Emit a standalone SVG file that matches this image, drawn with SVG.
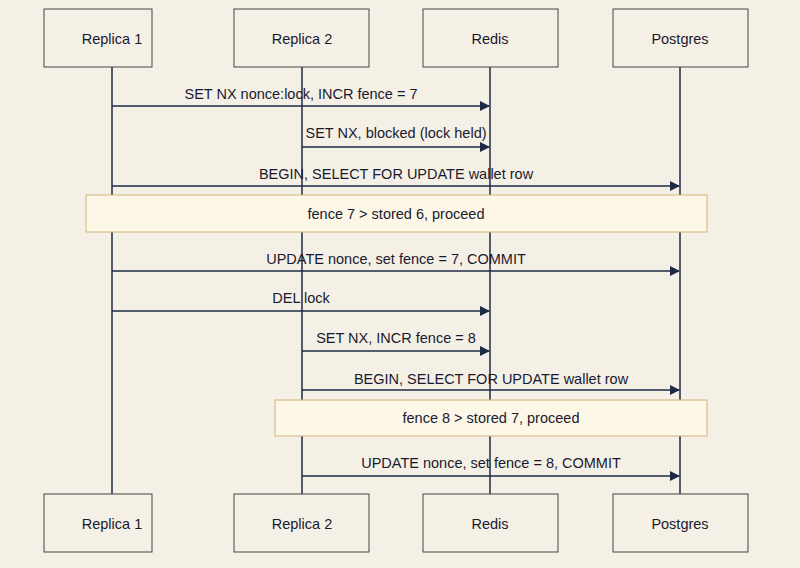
<svg xmlns="http://www.w3.org/2000/svg" width="800" height="568" viewBox="0 0 800 568">
<defs>
<style>
.actor{fill:#f5f0e6;stroke:#444;stroke-width:1}
.life{stroke:#1e2a44;stroke-width:1.5}
.msg{stroke:#1e2a44;stroke-width:1.3;marker-end:url(#ah)}
.note{fill:#fdf7e8;stroke:#d2b27a;stroke-width:1}
text{font-family:"Liberation Sans",Arial,sans-serif;font-size:14.5px;fill:#1a1a2e;text-anchor:middle}
</style>
<marker id="ah" markerWidth="10" markerHeight="10" refX="9" refY="5" orient="auto" markerUnits="userSpaceOnUse"><path d="M0,0 L10,5 L0,10 z" fill="#1e2a44"/></marker>
</defs>
<rect width="800" height="568" fill="#f5f0e6"/>
<g id="lifelines">
<line class="life" x1="112" y1="67" x2="112" y2="494"/>
<line class="life" x1="302" y1="67" x2="302" y2="494"/>
<line class="life" x1="490" y1="67" x2="490" y2="494"/>
<line class="life" x1="680" y1="67" x2="680" y2="494"/>
</g>
<g id="replica1"><rect class="actor" x="44" y="9" width="108" height="58"/><text x="112" y="44">Replica 1</text>
<rect class="actor" x="44" y="494" width="108" height="58"/><text x="112" y="529">Replica 1</text></g>
<g id="replica2"><rect class="actor" x="234" y="9" width="135" height="58"/><text x="302" y="44">Replica 2</text>
<rect class="actor" x="234" y="494" width="135" height="58"/><text x="302" y="529">Replica 2</text></g>
<g id="redis"><rect class="actor" x="423" y="9" width="135" height="58"/><text x="490" y="44">Redis</text>
<rect class="actor" x="423" y="494" width="135" height="58"/><text x="490" y="529">Redis</text></g>
<g id="postgres"><rect class="actor" x="613" y="9" width="135" height="58"/><text x="680" y="44">Postgres</text>
<rect class="actor" x="613" y="494" width="135" height="58"/><text x="680" y="529">Postgres</text></g>
<g id="connectors">
<line class="msg" x1="112" y1="106" x2="489" y2="106"/><text x="301" y="99">SET NX nonce:lock, INCR fence = 7</text>
<line class="msg" x1="302" y1="147" x2="489" y2="147"/><text x="396" y="138">SET NX, blocked (lock held)</text>
<line class="msg" x1="112" y1="186" x2="679" y2="186"/><text x="396" y="179">BEGIN, SELECT FOR UPDATE wallet row</text>
<line class="msg" x1="112" y1="271" x2="679" y2="271"/><text x="396" y="264">UPDATE nonce, set fence = 7, COMMIT</text>
<line class="msg" x1="112" y1="311" x2="489" y2="311"/><text x="301" y="303">DEL lock</text>
<line class="msg" x1="302" y1="351" x2="489" y2="351"/><text x="396" y="343">SET NX, INCR fence = 8</text>
<line class="msg" x1="302" y1="390" x2="679" y2="390"/><text x="491" y="384">BEGIN, SELECT FOR UPDATE wallet row</text>
<line class="msg" x1="302" y1="476" x2="679" y2="476"/><text x="491" y="468">UPDATE nonce, set fence = 8, COMMIT</text>
</g>
<g id="note1"><rect class="note" x="86" y="195" width="621" height="37"/><text x="396" y="219">fence 7 &gt; stored 6, proceed</text></g>
<g id="note2"><rect class="note" x="275" y="400" width="432" height="36"/><text x="491" y="423">fence 8 &gt; stored 7, proceed</text></g>
</svg>
